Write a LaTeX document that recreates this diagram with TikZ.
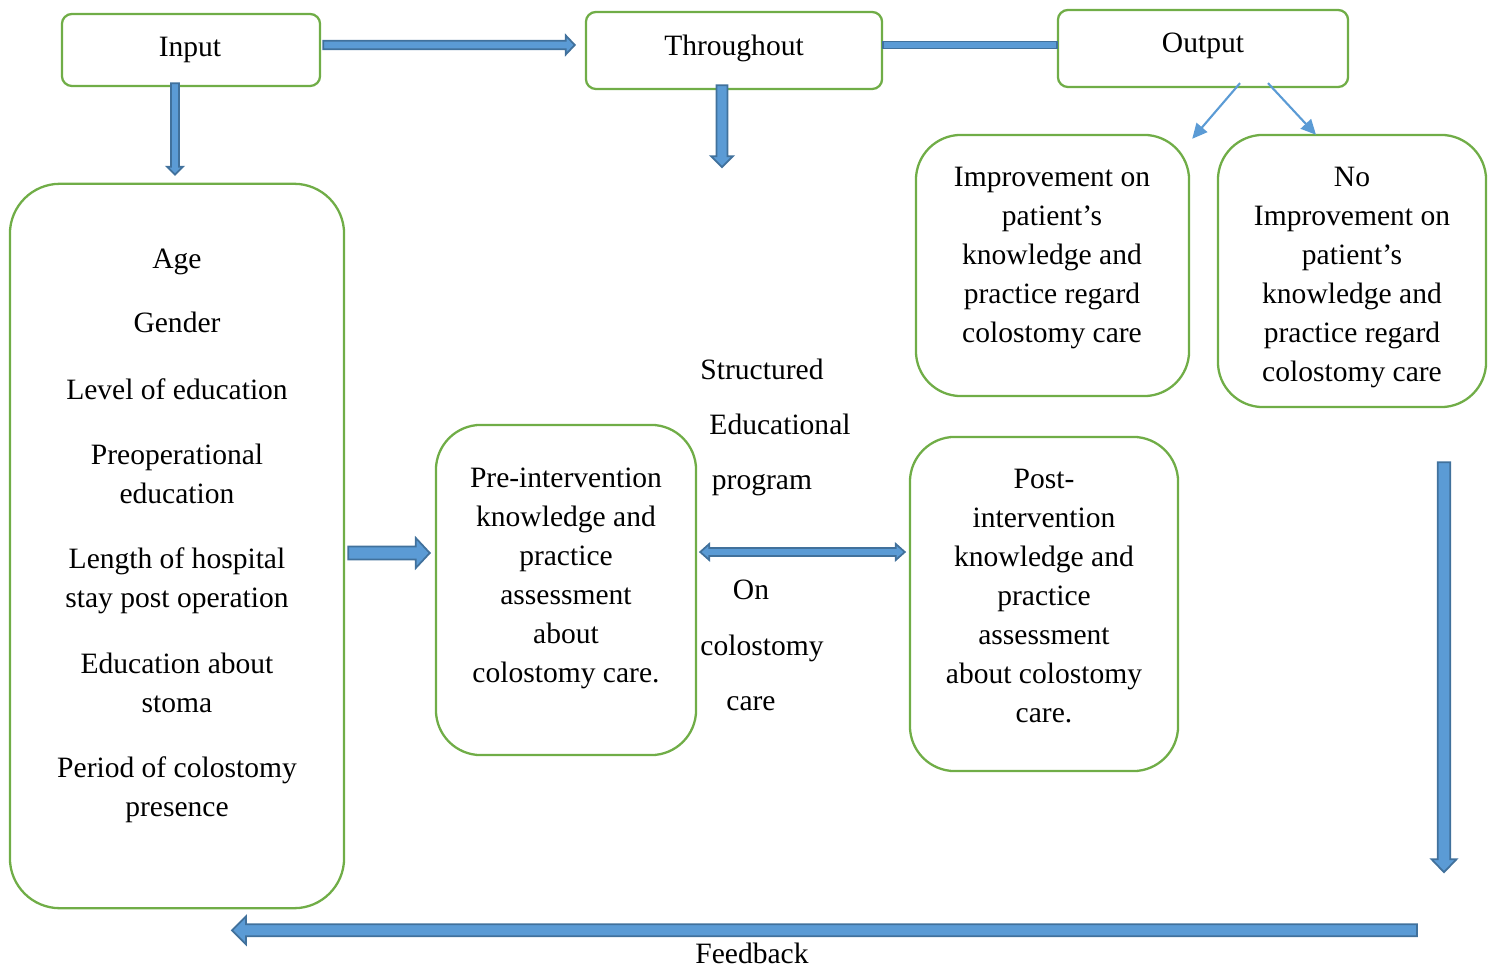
\documentclass[tikz,border=0pt]{standalone}
\usepackage{fontspec}
\setmainfont{Liberation Serif}
\usetikzlibrary{calc,arrows.meta}
\definecolor{bxgreen}{HTML}{70AD47}
\definecolor{arfill}{HTML}{5B9BD5}
\definecolor{ardraw}{HTML}{41719C}
\tikzset{
  box/.style={draw=bxgreen, line width=0.65pt, inner sep=0pt},
  txt/.style={align=center, inner sep=0pt},
  arrbody/.style={fill=arfill, draw=ardraw, line width=0.5pt, line join=miter},
  thinarr/.style={draw=arfill, line width=0.6pt, -{Triangle[length=0.15cm,width=0.14cm]}}
}
% single block arrow: from, to, shaft half width, head half width, head length
\newcommand\blockarr[5]{%
  \coordinate (ba-s) at (#1); \coordinate (ba-e) at (#2);
  \coordinate (ba-h) at ($(ba-e)!#5!(ba-s)$);
  \filldraw[arrbody] ($(ba-s)!#3!90:(ba-e)$) -- ($(ba-h)!#3!-90:(ba-s)$) -- ($(ba-h)!#4!-90:(ba-s)$) -- (ba-e) -- ($(ba-h)!#4!90:(ba-s)$) -- ($(ba-h)!#3!90:(ba-s)$) -- ($(ba-s)!#3!-90:(ba-e)$) -- cycle;}
% double block arrow
\newcommand\dblarr[5]{%
  \coordinate (da-s) at (#1); \coordinate (da-e) at (#2);
  \coordinate (da-hs) at ($(da-s)!#5!(da-e)$);
  \coordinate (da-he) at ($(da-e)!#5!(da-s)$);
  \filldraw[arrbody] (da-s) -- ($(da-hs)!#4!90:(da-e)$) -- ($(da-hs)!#3!90:(da-e)$) -- ($(da-he)!#3!-90:(da-s)$) -- ($(da-he)!#4!-90:(da-s)$) -- (da-e) -- ($(da-he)!#4!90:(da-s)$) -- ($(da-he)!#3!90:(da-s)$) -- ($(da-hs)!#3!-90:(da-e)$) -- ($(da-hs)!#4!-90:(da-e)$) -- cycle;}
% plain bar
\newcommand\plainbar[3]{%
  \coordinate (pb-s) at (#1); \coordinate (pb-e) at (#2);
  \filldraw[arrbody] ($(pb-s)!#3!90:(pb-e)$) -- ($(pb-e)!#3!-90:(pb-s)$) -- ($(pb-e)!#3!90:(pb-s)$) -- ($(pb-s)!#3!-90:(pb-e)$) -- cycle;}
\begin{document}
\begin{tikzpicture}[x=0.01cm, y=-0.01cm, font=\fontsize{8.4}{11.1}\selectfont]
\useasboundingbox (0,0) rectangle (1497,967);

% boxes
\node[box, rounded corners=0.1cm, minimum width=2.58cm, minimum height=0.72cm] (input) at (191,50) {};
\node[box, rounded corners=0.1cm, minimum width=2.96cm, minimum height=0.77cm] (thr) at (734,50.5) {};
\node[box, rounded corners=0.1cm, minimum width=2.90cm, minimum height=0.77cm] (out) at (1203,48.5) {};
\node[box, rounded corners=0.5cm, minimum width=3.34cm, minimum height=7.24cm] (left) at (177,546) {};
\node[box, rounded corners=0.45cm, minimum width=2.60cm, minimum height=3.30cm] (pre) at (566,590) {};
\node[box, rounded corners=0.45cm, minimum width=2.68cm, minimum height=3.34cm] (post) at (1044,604) {};
\node[box, rounded corners=0.45cm, minimum width=2.73cm, minimum height=2.61cm] (imp) at (1052.5,265.5) {};
\node[box, rounded corners=0.45cm, minimum width=2.68cm, minimum height=2.72cm] (noimp) at (1352,271) {};

% box texts
\node[txt] (tin) at (190,50) {Input};
\node[txt] (tthr) at (734,48) {Throughout};
\node[txt] (tout) at (1203,46) {Output};

\node[txt] (l1) at (177,262) {Age};
\node[txt] (l2) at (177,322) {Gender};
\node[txt] (l3) at (177,389) {Level of education};
\node[txt] (l4) at (177,473.5) {Preoperational\\education};
\node[txt] (l5) at (177,580.5) {Length of hospital\\stay post operation};
\node[txt] (l6) at (177,682.5) {Education about\\stoma};
\node[txt] (l7) at (177,789.5) {Period of colostomy\\presence};

\node[txt] (tpre) at (566,578.5) {Pre-intervention\\knowledge and\\practice\\assessment\\about\\colostomy care.};
\node[txt] (tpost) at (1044,596) {Post-\\intervention\\knowledge and\\practice\\assessment\\about colostomy\\care.};
\node[txt] (timp) at (1052,258) {Improvement on\\patient’s\\knowledge and\\practice regard\\colostomy care};
\node[txt] (tnoimp) at (1352,277.5) {No\\Improvement on\\patient’s\\knowledge and\\practice regard\\colostomy care};

\node[txt] (m1) at (762,369) {Structured};
\node[txt] (m2) at (780,424) {Educational};
\node[txt] (m3) at (762,485) {program};
\node[txt] (m4) at (751,590) {On};
\node[txt] (m5) at (762,648) {colostomy};
\node[txt] (m6) at (751,704) {care};

\node[txt] (fb) at (752,953) {Feedback};

% arrow end coordinates
\coordinate (a1s) at ($(input.east)+(2,-5)$);
\coordinate (a1e) at ($(thr.west)+(-10,-5.5)$);
\coordinate (b1s) at ($(thr.east)+(0,-5.5)$);
\coordinate (b1e) at ($(out.west)+(0,-3.5)$);
\coordinate (a2s) at ($(input.south)+(-16,-4)$);
\coordinate (a2e) at ($(left.north)+(-2,-8)$);
\coordinate (a3s) at ($(thr.south)+(-12,-5)$);
\coordinate (a3e) at ($(thr.south)+(-12,77)$);
\coordinate (a4s) at ($(left.east)+(3,7)$);
\coordinate (a4e) at ($(pre.west)+(-5,-37)$);
\coordinate (a5s) at ($(pre.east)+(3,-38)$);
\coordinate (a5e) at ($(post.west)+(-4,-52)$);
\coordinate (a6s) at ($(noimp.south)+(92,54)$);
\coordinate (a6e) at ($(noimp.south)+(92,464)$);
\coordinate (a7s) at ($(left.south)+(1240,21)$);
\coordinate (a7e) at ($(left.south)+(55,21)$);
\coordinate (o1) at ($(out.south)+(37,-5)$);
\coordinate (o2) at ($(out.south)+(65,-5)$);
\coordinate (o2e) at ($(noimp.north)+(-36,1)$);
\coordinate (o1e) at ($(imp.north east)+(2,5)$);

% block arrows
\blockarr{a1s}{a1e}{0.043cm}{0.095cm}{0.09cm}
\plainbar{b1s}{b1e}{0.035cm}
\blockarr{a2s}{a2e}{0.04cm}{0.08cm}{0.08cm}
\blockarr{a3s}{a3e}{0.055cm}{0.11cm}{0.11cm}
\blockarr{a4s}{a4e}{0.065cm}{0.15cm}{0.14cm}
\dblarr{a5s}{a5e}{0.04cm}{0.08cm}{0.09cm}
\blockarr{a6s}{a6e}{0.062cm}{0.125cm}{0.13cm}
\blockarr{a7s}{a7e}{0.06cm}{0.14cm}{0.14cm}

% thin arrows
\draw[thinarr] (o1) -- (o1e);
\draw[thinarr] (o2) -- (o2e);
\end{tikzpicture}
\end{document}
